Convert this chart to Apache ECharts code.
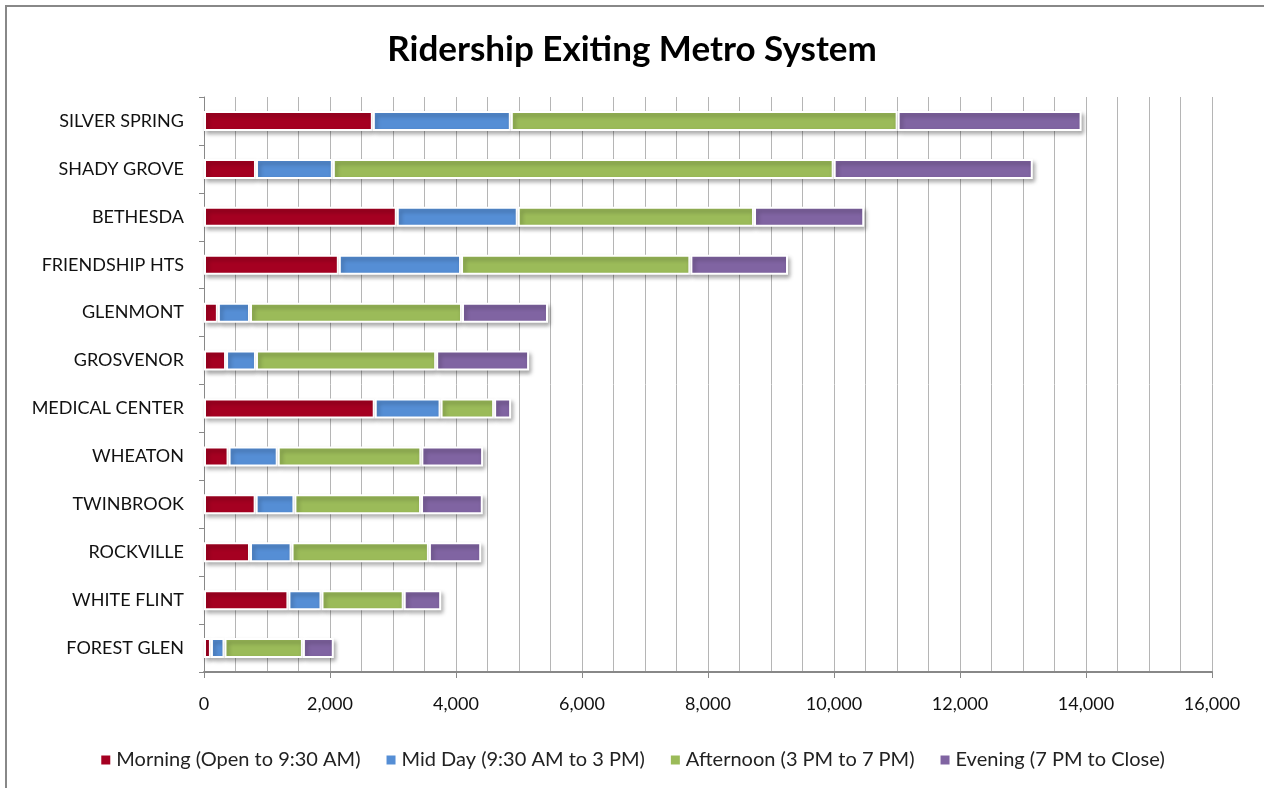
<!DOCTYPE html>
<html>
<head>
<meta charset="utf-8">
<title>Ridership Exiting Metro System</title>
<script src="https://cdn.jsdelivr.net/npm/echarts@6/dist/echarts.min.js"></script>
<style>
  html, body { margin: 0; padding: 0; background: #fff; }
  #chart { width: 1264px; height: 788px; }
</style>
</head>
<body>
<div id="chart"></div>
<script>
// stations, top to bottom
var stations = ['SILVER SPRING', 'SHADY GROVE', 'BETHESDA', 'FRIENDSHIP HTS', 'GLENMONT', 'GROSVENOR',
    'MEDICAL CENTER', 'WHEATON', 'TWINBROOK', 'ROCKVILLE', 'WHITE FLINT', 'FOREST GLEN'];

var morning   = [2680,  825, 3060, 2140,  220,  350, 2710,  390,  820,  730, 1340,  110];
var midday    = [2190, 1220, 1920, 1940,  510,  475, 1045,  780,  615,  660,  525,  215];
var afternoon = [6140, 7950, 3750, 3640, 3365, 2860,  850, 2280, 2010, 2180, 1305, 1245];
var evening   = [2920, 3160, 1750, 1550, 1365, 1475,  270,  980,  980,  830,  595,  490];

var seriesNames = ['Morning (Open to 9:30 AM)', 'Mid Day (9:30 AM to 3 PM)',
    'Afternoon (3 PM to 7 PM)', 'Evening (7 PM to Close)'];
var colors = ['#A50021', '#558ED5', '#9BBB59', '#8064A2'];

var chart = echarts.init(document.getElementById('chart'));

function barSeries(name, values, color) {
    return {
        name: name,
        type: 'bar',
        stack: 'total',
        barWidth: 20,
        data: values,
        itemStyle: {
            color: color,
            borderColor: '#fff',
            borderWidth: 2,
            shadowColor: 'rgba(0,0,0,0.3)',
            shadowBlur: 4,
            shadowOffsetX: 2,
            shadowOffsetY: 3
        }
    };
}

var option = {
    animation: false,
    color: colors,
    textStyle: { fontFamily: 'Lato' },
    title: {
        text: 'Ridership Exiting Metro System',
        left: 'center',
        top: 27,
        textStyle: { fontFamily: 'Lato', fontSize: 35, fontWeight: 'bold', color: '#000' }
    },
    legend: {
        bottom: 13,
        left: 'center',
        itemWidth: 11,
        itemHeight: 11,
        itemGap: 24,
        icon: 'rect',
        textStyle: { fontFamily: 'Lato', fontSize: 20, color: '#222' },
        data: seriesNames
    },
    grid: { left: 204, right: 52, top: 97, bottom: 116 },
    xAxis: {
        type: 'value',
        min: 0,
        max: 16000,
        interval: 2000,
        axisLine: { show: true, lineStyle: { color: '#888', width: 2 } },
        axisTick: { show: true, length: 6, lineStyle: { color: '#888' } },
        axisLabel: {
            margin: 23,
            fontSize: 18,
            color: '#111',
            formatter: function (v) { return v.toLocaleString('en-US'); }
        },
        splitLine: { show: true, lineStyle: { color: '#b5b5b5', width: 1 } },
        minorTick: { show: false, splitNumber: 4 },
        minorSplitLine: { show: true, lineStyle: { color: '#b5b5b5', width: 1 } }
    },
    yAxis: {
        type: 'category',
        inverse: true,
        data: stations,
        axisLine: { show: true, lineStyle: { color: '#888' } },
        axisTick: { show: true, length: 5, lineStyle: { color: '#888' } },
        axisLabel: { margin: 20, fontSize: 18, color: '#111' }
    },
    series: [
        barSeries(seriesNames[0], morning, colors[0]),
        barSeries(seriesNames[1], midday, colors[1]),
        barSeries(seriesNames[2], afternoon, colors[2]),
        barSeries(seriesNames[3], evening, colors[3])
    ],
    graphic: [
        { type: 'line', shape: { x1: 5, y1: 6, x2: 1264, y2: 6 }, style: { stroke: '#888', lineWidth: 2 } },
        { type: 'line', shape: { x1: 6, y1: 6, x2: 6, y2: 788 }, style: { stroke: '#888', lineWidth: 2 } }
    ]
};

chart.setOption(option);
</script>
</body>
</html>
